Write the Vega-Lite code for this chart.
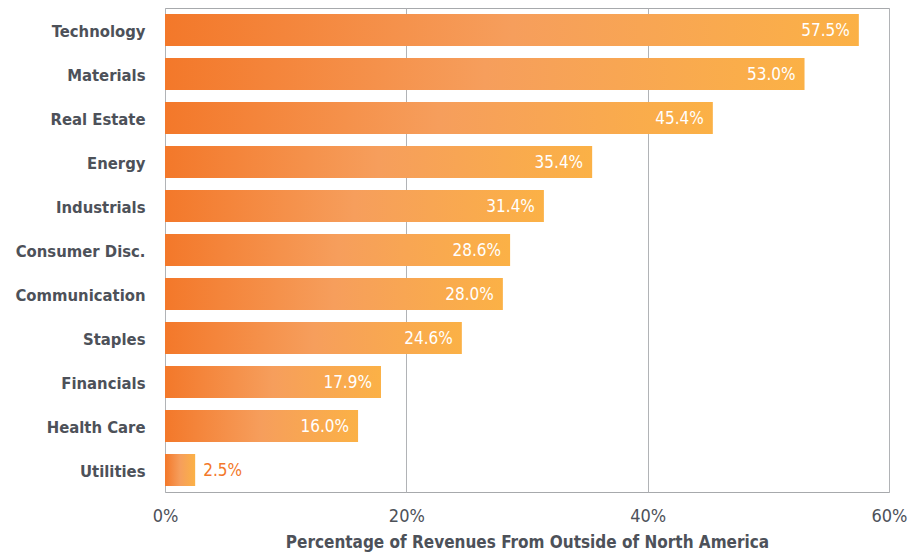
{
  "$schema": "https://vega.github.io/schema/vega-lite/v6.json",
  "width": 724,
  "height": 484,
  "padding": {"left": 165, "top": 8, "right": 31, "bottom": 66},
  "autosize": {"type": "none"},
  "background": "white",
  "config": {
    "view": {"stroke": "#a7a9ac", "strokeWidth": 1},
    "font": "DejaVu Sans Condensed, Roboto Condensed, Liberation Sans Narrow, Roboto, sans-serif"
  },
  "data": {
    "values": [
      {"sector": "Technology", "value": 57.5, "label": "57.5%", "inside": true},
      {"sector": "Materials", "value": 53.0, "label": "53.0%", "inside": true},
      {"sector": "Real Estate", "value": 45.4, "label": "45.4%", "inside": true},
      {"sector": "Energy", "value": 35.4, "label": "35.4%", "inside": true},
      {"sector": "Industrials\u2002", "value": 31.4, "label": "31.4%", "inside": true},
      {"sector": "Consumer Disc.", "value": 28.6, "label": "28.6%", "inside": true},
      {"sector": "Communication\u2002", "value": 28.0, "label": "28.0%", "inside": true},
      {"sector": "Staples", "value": 24.6, "label": "24.6%", "inside": true},
      {"sector": "Financials", "value": 17.9, "label": "17.9%", "inside": true},
      {"sector": "Health Care", "value": 16.0, "label": "16.0%", "inside": true},
      {"sector": "Utilities", "value": 2.5, "label": "2.5%", "inside": false}
    ]
  },
  "encoding": {
    "y": {
      "field": "sector",
      "type": "nominal",
      "sort": null,
      "scale": {"paddingInner": 0.273, "paddingOuter": 0.136},
      "axis": {
        "title": null,
        "ticks": false,
        "domain": false,
        "labelPadding": 20,
        "labelOffset": 2,
        "labelFontSize": 16.5,
        "labelFontWeight": "bold",
        "labelColor": "#4d5159",
        "labelLimit": 200
      }
    },
    "x": {
      "field": "value",
      "type": "quantitative",
      "scale": {"domain": [0, 60], "nice": false},
      "axis": {
        "values": [0, 20, 40, 60],
        "labelExpr": "datum.value + '%'",
        "title": "Percentage of Revenues From Outside of North America",
        "titleFontSize": 17,
        "titleFontWeight": "bold",
        "titleColor": "#4d5159",
        "titlePadding": 9,
        "labelFontSize": 18,
        "labelColor": "#4d5159",
        "labelPadding": 15,
        "ticks": false,
        "domain": false,
        "grid": true,
        "gridColor": "#b1b3b6",
        "gridWidth": 1,
        "labelFlush": false
      }
    }
  },
  "layer": [
    {
      "mark": {
        "type": "bar",
        "color": {
          "x1": 0, "y1": 0, "x2": 1, "y2": 0,
          "gradient": "linear",
          "stops": [
            {"offset": 0, "color": "#f3782a"},
            {"offset": 0.5, "color": "#f69e5c"},
            {"offset": 1, "color": "#fbb146"}
          ]
        }
      }
    },
    {
      "transform": [{"filter": "datum.inside"}],
      "mark": {"type": "text", "align": "right", "dx": -9, "dy": 1, "fontSize": 17, "color": "white", "baseline": "middle"},
      "encoding": {"text": {"field": "label"}}
    },
    {
      "transform": [{"filter": "!datum.inside"}],
      "mark": {"type": "text", "align": "left", "dx": 8, "dy": 1, "fontSize": 17, "color": "#f3782a", "baseline": "middle"},
      "encoding": {"text": {"field": "label"}}
    }
  ]
}
